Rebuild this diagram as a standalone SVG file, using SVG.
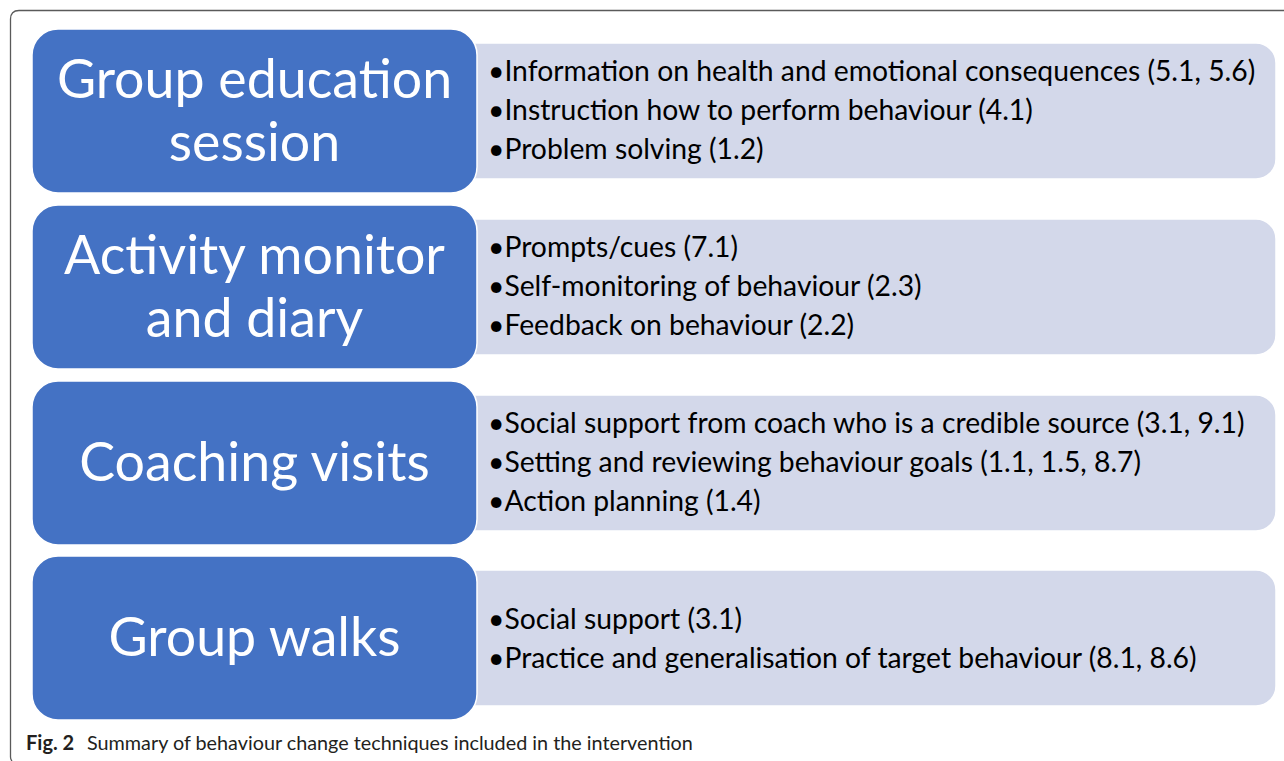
<svg xmlns="http://www.w3.org/2000/svg" width="1284" height="761" viewBox="0 0 1284 761">
  <style>
    .frame { fill: none; stroke: #5a5a5a; stroke-width: 1.3; }
    .head { fill: #4472C4; stroke: #ffffff; stroke-width: 1.5; }
    .body { fill: #D3D8EA; stroke: #ffffff; stroke-width: 1.5; }
    .htxt { font-family: Lato, "Open Sans", sans-serif; font-size: 53.7px; fill: #ffffff; text-anchor: middle; }
    .btxt { font-family: Lato, "Open Sans", sans-serif; font-size: 28.3px; fill: #000000; }
    .cap { font-family: Lato, "Liberation Sans", sans-serif; font-size: 19.8px; fill: #231f20; }
    .capb { font-weight: bold; font-size: 20px; }
  </style>
  <rect width="1284" height="761" fill="#ffffff"/>
  <!-- figure frame: left and top rules with rounded corners -->
  <path class="frame" d="M12 761 Q10.5 759.5 10.5 757 V19 Q10.5 10.5 19 10.5 H1284"/>

  <g id="group-education">
    <rect class="body" x="440" y="43" width="836" height="136" rx="20"/>
    <rect class="head" x="32" y="29" width="445" height="164" rx="26"/>
    <text class="htxt" x="254.5" y="98">Group education</text>
    <text class="htxt" x="254.5" y="161">session</text>
    <text class="btxt" x="488" y="81">•Information on health and emotional consequences (5.1, 5.6)</text>
    <text class="btxt" x="488" y="120">•Instruction how to perform behaviour (4.1)</text>
    <text class="btxt" x="488" y="159">•Problem solving (1.2)</text>
  </g>

  <g id="activity-monitor">
    <rect class="body" x="440" y="219" width="836" height="136" rx="20"/>
    <rect class="head" x="32" y="205" width="445" height="164" rx="26"/>
    <text class="htxt" x="254.5" y="274">Activity monitor</text>
    <text class="htxt" x="254.5" y="337">and diary</text>
    <text class="btxt" x="488" y="257">•Prompts/cues (7.1)</text>
    <text class="btxt" x="488" y="296">•Self-monitoring of behaviour (2.3)</text>
    <text class="btxt" x="488" y="335">•Feedback on behaviour (2.2)</text>
  </g>

  <g id="coaching-visits">
    <rect class="body" x="440" y="395" width="836" height="136" rx="20"/>
    <rect class="head" x="32" y="381" width="445" height="164" rx="26"/>
    <text class="htxt" x="254.5" y="481">Coaching visits</text>
    <text class="btxt" x="488" y="433">•Social support from coach who is a credible source (3.1, 9.1)</text>
    <text class="btxt" x="488" y="472">•Setting and reviewing behaviour goals (1.1, 1.5, 8.7)</text>
    <text class="btxt" x="488" y="511">•Action planning (1.4)</text>
  </g>

  <g id="group-walks">
    <rect class="body" x="440" y="570" width="836" height="136" rx="20"/>
    <rect class="head" x="32" y="556" width="445" height="164" rx="26"/>
    <text class="htxt" x="254.5" y="656">Group walks</text>
    <text class="btxt" x="488" y="629">•Social support (3.1)</text>
    <text class="btxt" x="488" y="668">•Practice and generalisation of target behaviour (8.1, 8.6)</text>
  </g>

  <g id="connectors"/>

  <text class="cap capb" x="26" y="750">Fig. 2</text>
  <text class="cap" x="87" y="750">Summary of behaviour change techniques included in the intervention</text>
</svg>
